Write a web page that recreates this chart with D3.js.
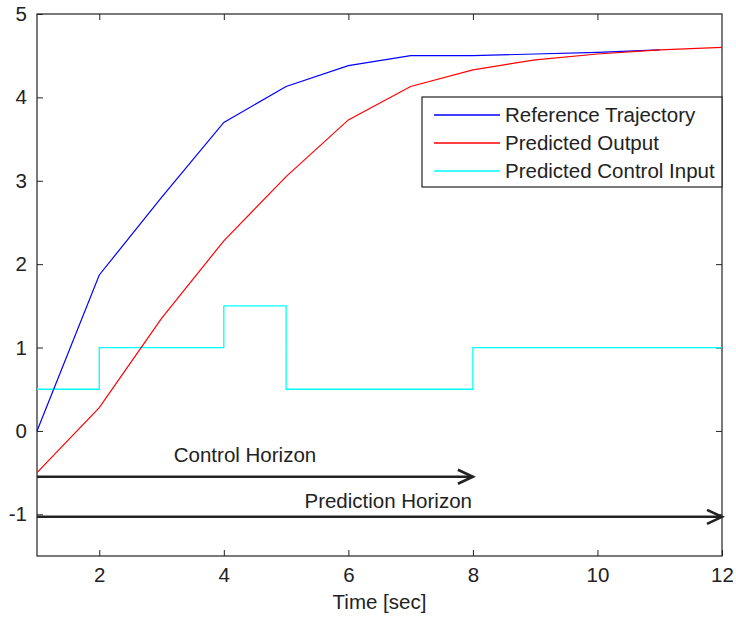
<!DOCTYPE html>
<html>
<head>
<meta charset="utf-8">
<script src="https://cdn.jsdelivr.net/npm/d3@7"></script>
<style>
  body { margin: 0; background: #fff; }
  svg text { font-family: "Liberation Sans", Arial, sans-serif; fill: #222; }
</style>
</head>
<body>
<svg id="chart" width="736" height="618"></svg>
<script>
const WIDTH = 736;
const HEIGHT = 618;
const margin = { top: 14, right: 14, bottom: 62, left: 37 };
const FONT = "20.5px";

// data
const refTime = [1, 2, 3, 4, 5, 6, 7, 8, 9, 10, 11];
const refValues = [0, 1.87, 2.8, 3.7, 4.13, 4.38, 4.5, 4.5, 4.52, 4.54, 4.57];
const outTime = [1, 2, 3, 4, 5, 6, 7, 8, 9, 10, 11, 12];
const outValues = [-0.5, 0.28, 1.35, 2.28, 3.05, 3.73, 4.13, 4.33, 4.45, 4.52, 4.57, 4.6];
const inputTime = [1, 2, 4, 5, 8, 12];
const inputValues = [0.5, 1, 1.5, 0.5, 1, 1];
const xTicks = [2, 4, 6, 8, 10, 12];
const yTicks = [-1, 0, 1, 2, 3, 4, 5];
const legendLabels = ["Reference Trajectory", "Predicted Output", "Predicted Control Input"];
const legendColors = ["#0000ff", "#ff0000", "#00ffff"];
const horizons = [
  { label: "Control Horizon", from: 1, to: 8, y: -0.55, labelX: 4.34, labelDy: -15 },
  { label: "Prediction Horizon", from: 1, to: 12, y: -1.03, labelX: 6.64, labelDy: -9 }
];

const svg = d3.select("#chart");
const innerW = WIDTH - margin.left - margin.right;
const innerH = HEIGHT - margin.top - margin.bottom;

const x = d3.scaleLinear().domain([1, 12]).range([margin.left, margin.left + innerW]);
const y = d3.scaleLinear().domain([-1.5, 5]).range([margin.top + innerH, margin.top]);

const line = d3.line().x((d) => x(d[0])).y((d) => y(d[1]));
const stepLine = d3.line().x((d) => x(d[0])).y((d) => y(d[1])).curve(d3.curveStepAfter);

// plain hyphen minus like the original (d3.format would use U+2212)
const plain = (d) => String(d);

// box frame
svg.append("rect")
  .attr("x", x(1)).attr("y", y(5))
  .attr("width", x(12) - x(1)).attr("height", y(-1.5) - y(5))
  .attr("fill", "none").attr("stroke", "#222").attr("stroke-width", 1.2);

// axes with inward ticks (on all 4 sides)
const axisStyle = (g) => {
  g.select(".domain").remove();
  g.selectAll("line").attr("stroke", "#222");
  g.selectAll("text").style("font-size", FONT).attr("fill", "#222");
};

svg.append("g")
  .attr("transform", `translate(0, ${y(-1.5)})`)
  .call(d3.axisBottom(x).tickValues(xTicks).tickSizeInner(-6).tickSizeOuter(0).tickPadding(11).tickFormat(plain))
  .call(axisStyle);
svg.append("g")
  .attr("transform", `translate(0, ${y(5)})`)
  .call(d3.axisTop(x).tickValues(xTicks.slice(0, -1)).tickSizeInner(-6).tickSizeOuter(0).tickFormat(""))
  .call(axisStyle);
svg.append("g")
  .attr("transform", `translate(${x(1)}, 0)`)
  .call(d3.axisLeft(y).tickValues(yTicks).tickSizeInner(-6).tickSizeOuter(0).tickPadding(10).tickFormat(plain))
  .call(axisStyle);
svg.append("g")
  .attr("transform", `translate(${x(12)}, 0)`)
  .call(d3.axisRight(y).tickValues(yTicks.slice(0, -1)).tickSizeInner(-6).tickSizeOuter(0).tickFormat(""))
  .call(axisStyle);

svg.append("text")
  .attr("x", (x(1) + x(12)) / 2).attr("y", 609)
  .attr("text-anchor", "middle").style("font-size", FONT)
  .text("Time [sec]");

// series
const refData = refTime.map((t, i) => [t, refValues[i]]);
const outData = outTime.map((t, i) => [t, outValues[i]]);
const inputData = inputTime.map((t, i) => [t, inputValues[i]]);

svg.append("path").datum(inputData).attr("d", stepLine)
  .attr("fill", "none").attr("stroke", legendColors[2]).attr("stroke-width", 1.3);
svg.append("path").datum(refData).attr("d", line)
  .attr("fill", "none").attr("stroke", legendColors[0]).attr("stroke-width", 1.2);
svg.append("path").datum(outData).attr("d", line)
  .attr("fill", "none").attr("stroke", legendColors[1]).attr("stroke-width", 1.2);

// horizon arrows
horizons.forEach((h) => {
  const yy = y(h.y);
  const x0 = x(h.from);
  const x1 = x(h.to);
  svg.append("line")
    .attr("x1", x0).attr("x2", x1 - 1).attr("y1", yy).attr("y2", yy)
    .attr("stroke", "#222").attr("stroke-width", 2.6);
  svg.append("path")
    .attr("d", `M${x1 - 15},${yy - 7} L${x1},${yy} L${x1 - 15},${yy + 7}`)
    .attr("fill", "none").attr("stroke", "#222").attr("stroke-width", 2.6)
    .attr("stroke-linejoin", "miter");
  svg.append("text")
    .attr("x", x(h.labelX)).attr("y", yy + h.labelDy)
    .attr("text-anchor", "middle").style("font-size", FONT)
    .text(h.label);
});

// legend
const legend = svg.append("g").attr("transform", "translate(422, 97)");
legend.append("rect")
  .attr("width", 300).attr("height", 90)
  .attr("fill", "#fff").attr("stroke", "#222").attr("stroke-width", 1.2);
legendLabels.forEach((label, i) => {
  const ly = 18 + i * 28;
  legend.append("line")
    .attr("x1", 12).attr("x2", 78).attr("y1", ly).attr("y2", ly)
    .attr("stroke", legendColors[i]).attr("stroke-width", 1.3);
  legend.append("text")
    .attr("x", 83).attr("y", ly + 7)
    .style("font-size", FONT)
    .text(label);
});
</script>
</body>
</html>
